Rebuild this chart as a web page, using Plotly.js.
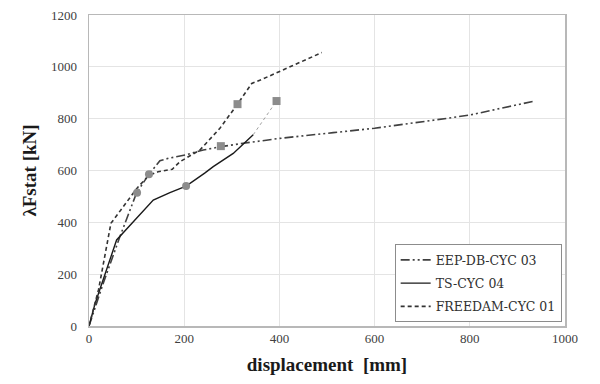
<!DOCTYPE html>
<html><head><meta charset="utf-8">
<script src="https://cdn.plot.ly/plotly-3.0.1.min.js"></script>
<style>body{margin:0;background:#fff}#c{width:600px;height:384px}</style>
</head><body><div id="c"></div>
<script>
const eepX = [0, 30, 65, 100, 125, 149, 167, 202, 240, 277, 324, 401, 513, 600, 751, 800, 936];
const eepY = [0, 165, 345, 514, 583, 638, 647, 660, 679, 692, 705, 724, 746, 763, 801, 814, 868];
const tsX = [0, 13, 58, 135, 170, 204, 243, 261, 303, 345];
const tsY = [0, 88, 332, 486, 515, 540, 590, 615, 666, 738];
const tsExtX = [345, 394];
const tsExtY = [738, 868];
const frX = [0, 20, 46, 75, 100, 125, 145, 175, 191, 233, 275, 312, 342, 360, 489];
const frY = [0, 140, 396, 470, 530, 580, 595, 605, 634, 679, 763, 856, 936, 949, 1055];
const circX = [101, 126, 204];
const circY = [514, 586, 540];
const sqX = [277, 312, 394];
const sqY = [694, 856, 868];
const names = ['EEP-DB-CYC 03', 'TS-CYC 04', 'FREEDAM-CYC 01'];

const SERIF = 'Liberation Serif';
const traces = [
  {x: eepX, y: eepY, name: names[0], legendgroup: 'a', mode: 'lines', line: {color: '#404040', width: 1.6, dash: '9px,3px,2px,3px,2px,3px'}},
  {x: tsX, y: tsY, name: names[1], legendgroup: 'b', mode: 'lines', line: {color: '#1a1a1a', width: 1.4}},
  {x: frX, y: frY, name: names[2], legendgroup: 'c', mode: 'lines', line: {color: '#333333', width: 1.6, dash: '4px,3px'}},
  {x: tsExtX, y: tsExtY, mode: 'lines', showlegend: false, line: {color: '#a0a0a0', width: 1, dash: 'dot'}},
  {x: circX, y: circY, mode: 'markers', showlegend: false, marker: {symbol: 'circle', size: 8, color: '#8c8c8c'}},
  {x: sqX, y: sqY, mode: 'markers', showlegend: false, marker: {symbol: 'square', size: 8, color: '#8c8c8c'}}
];

const layout = {
  width: 600, height: 384,
  margin: {l: 89, r: 35, t: 15, b: 58},
  paper_bgcolor: '#fff', plot_bgcolor: '#fff',
  showlegend: true,
  font: {family: SERIF, color: '#404040', size: 13},
  xaxis: {
    range: [0, 1000], tickvals: [0, 200, 400, 600, 800, 1000], ticks: '',
    showgrid: true, gridcolor: '#e4e4e4', gridwidth: 1,
    showline: true, linecolor: '#b8b8b8', linewidth: 1.5, mirror: true, zeroline: false,
    tickfont: {family: SERIF, size: 13, color: '#404040'},
    title: {text: 'displacement  [mm]', font: {family: SERIF, size: 19, color: '#1a1a1a', weight: 'bold'}, standoff: 12}
  },
  yaxis: {
    range: [0, 1200], tickvals: [0, 200, 400, 600, 800, 1000, 1200], ticks: '',
    showgrid: true, gridcolor: '#e4e4e4', gridwidth: 1,
    showline: true, linecolor: '#b8b8b8', linewidth: 1.5, mirror: true, zeroline: false,
    tickfont: {family: SERIF, size: 13, color: '#404040'}, ticklabelstandoff: 8,
    title: {text: 'λFstat [kN]', font: {family: SERIF, size: 19, color: '#1a1a1a', weight: 'bold'}, standoff: 9}
  },
  legend: {
    x: 0.993, xanchor: 'right', y: 0.012, yanchor: 'bottom',
    bgcolor: '#fff', bordercolor: '#8c8c8c', borderwidth: 1,
    font: {family: 'DejaVu Serif', size: 12.5, color: '#303030'},
    itemwidth: 30, traceorder: 'grouped', tracegroupgap: 4
  }
};
Plotly.newPlot('c', traces, layout, {displayModeBar: false, staticPlot: true});
</script>
</body></html>
